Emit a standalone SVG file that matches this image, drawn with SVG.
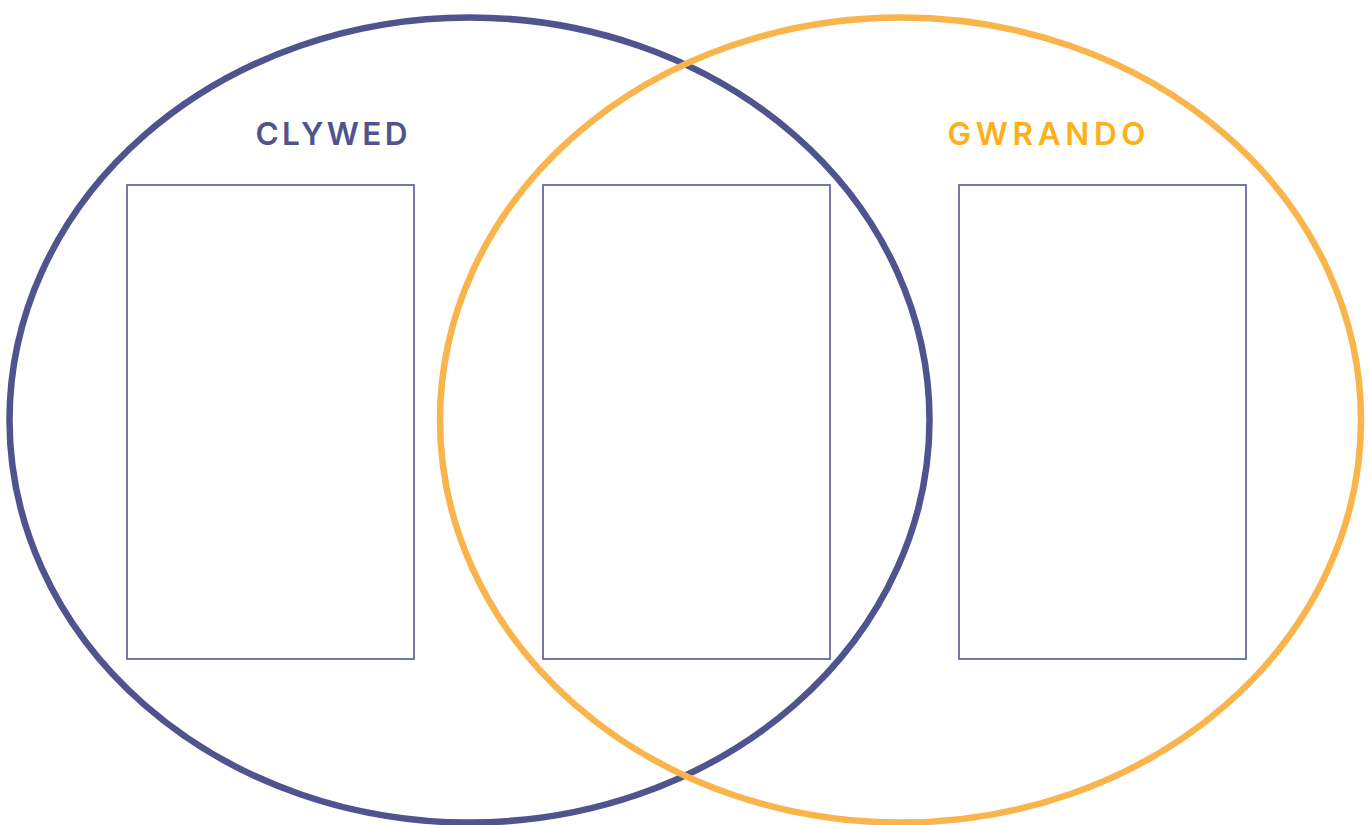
<svg xmlns="http://www.w3.org/2000/svg" width="1370" height="825" viewBox="0 0 1370 825">
<style>
.ring{fill:none;stroke-width:6.5}
.box{fill:none;stroke:#535895;stroke-width:1.6}
.lbl{font-family:Inter,"DejaVu Sans","Liberation Sans",Arial,sans-serif;font-size:31.5px;font-weight:600;text-anchor:middle}
</style>
<rect width="1370" height="825" fill="#ffffff"/>
<g id="circle-clywed">
<ellipse class="ring" cx="469.5" cy="420" rx="460" ry="402.5" stroke="#4f548e"/>
</g>
<g id="circle-gwrando">
<ellipse class="ring" cx="900.5" cy="420" rx="460.5" ry="402.5" stroke="#fab44c"/>
</g>
<g id="label-clywed">
<text class="lbl" x="331.5" y="144.5" fill="#4f548e" textLength="152" lengthAdjust="spacing">CLYWED</text>
</g>
<g id="label-gwrando">
<text class="lbl" x="1046.5" y="144.5" fill="#fdb01a" textLength="198" lengthAdjust="spacing">GWRANDO</text>
</g>
<g id="box-left"><rect class="box" x="127" y="185" width="287" height="474"/></g>
<g id="box-middle"><rect class="box" x="543" y="185" width="287" height="474"/></g>
<g id="box-right"><rect class="box" x="959" y="185" width="287" height="474"/></g>
<g id="connectors"></g>
</svg>
